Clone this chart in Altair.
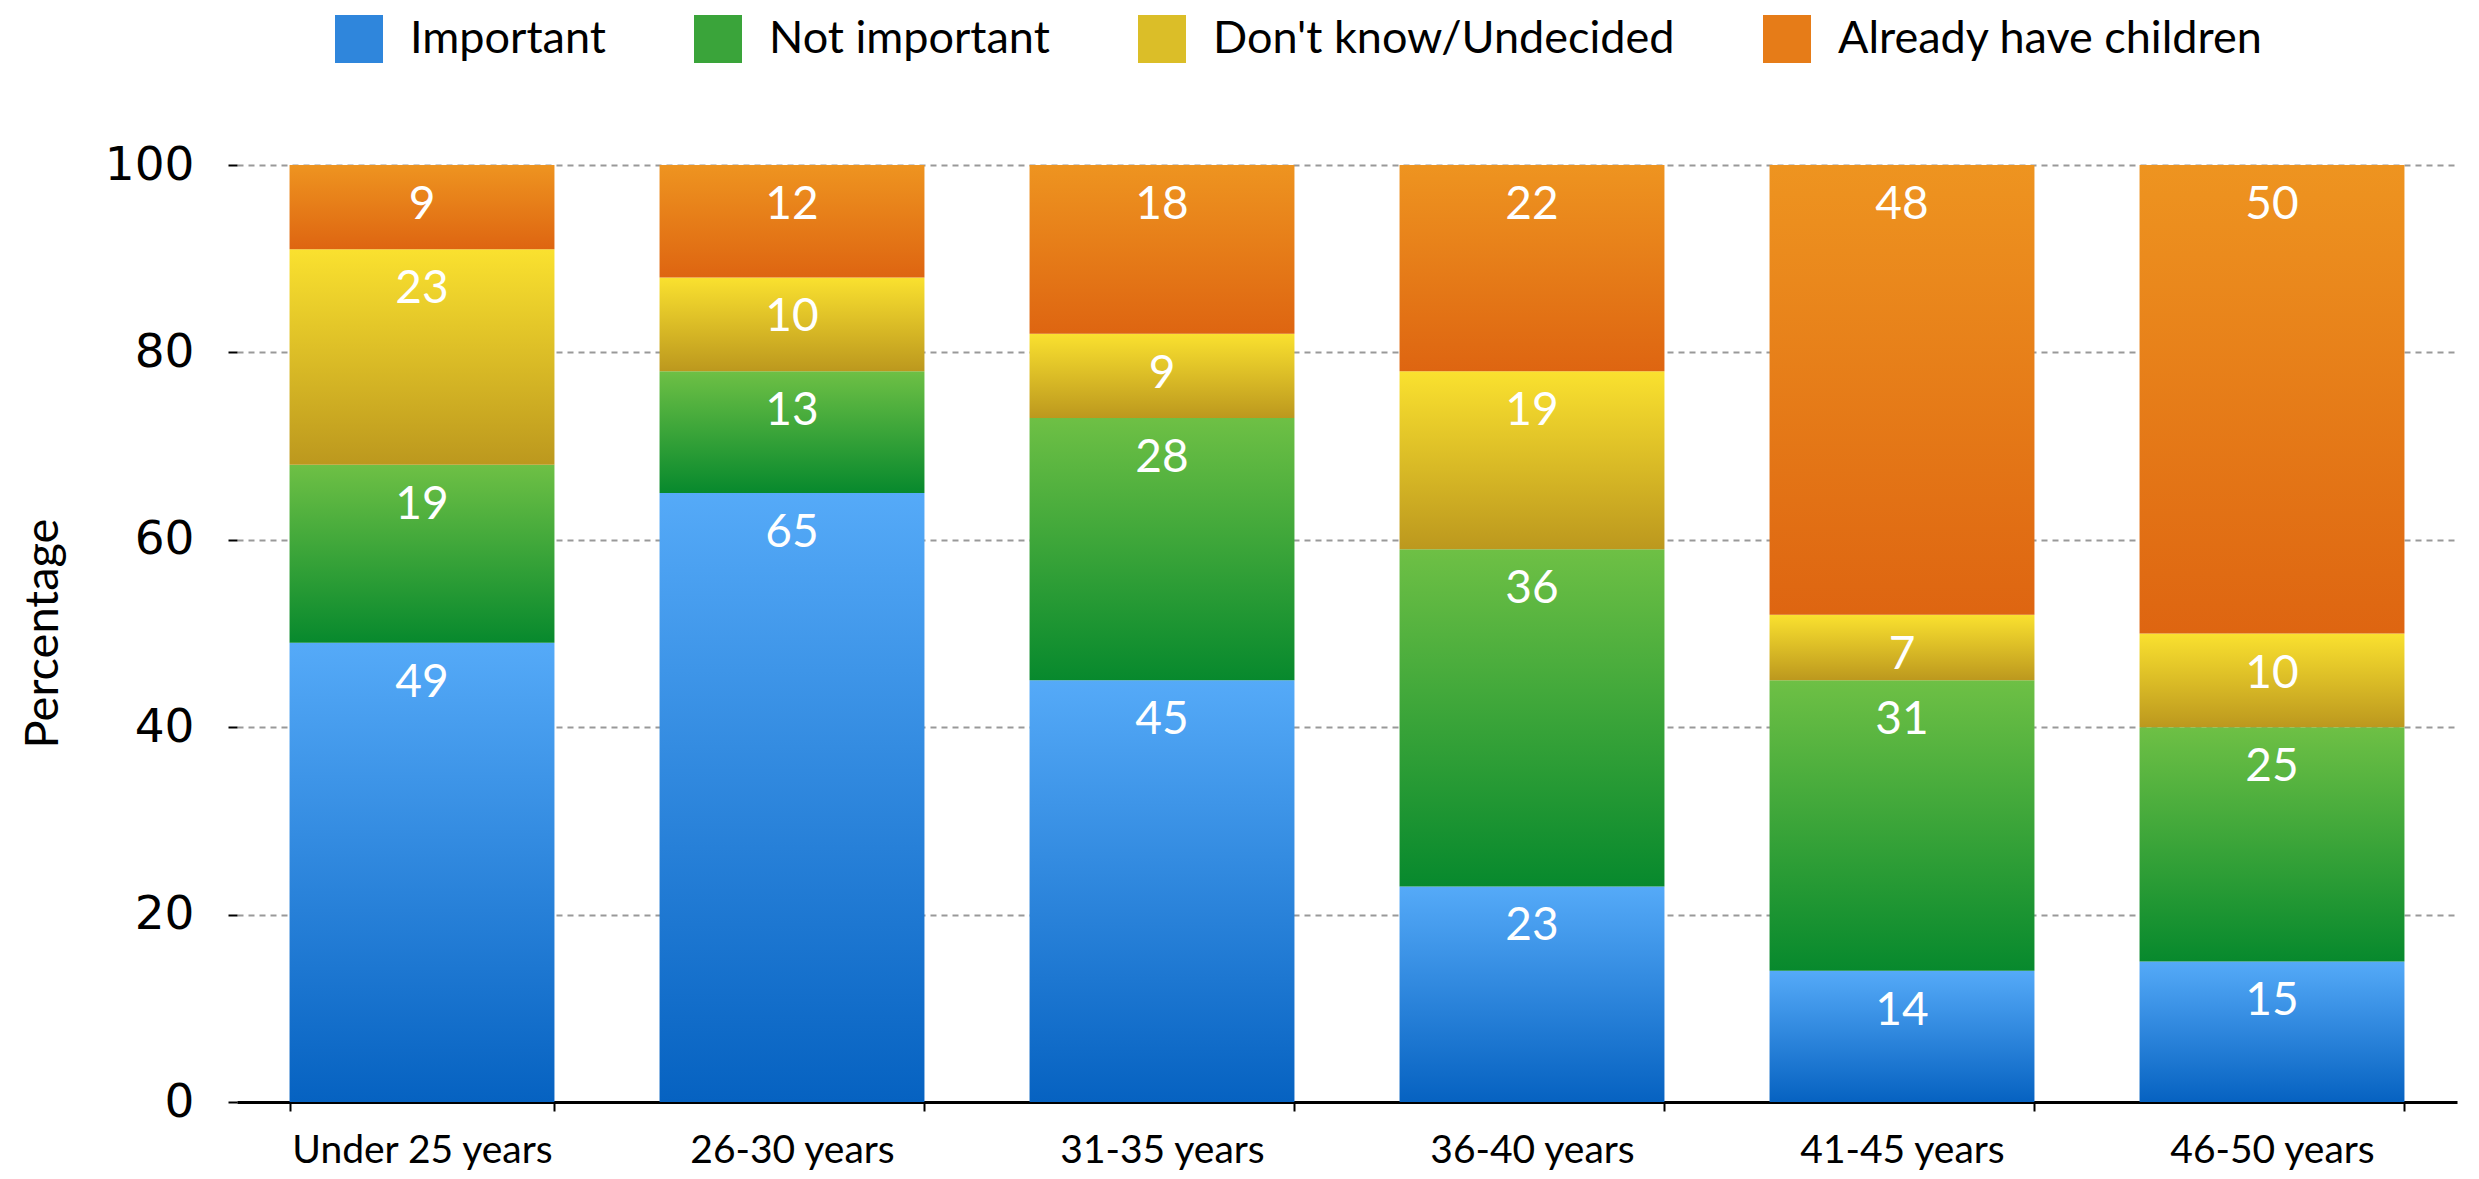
import altair as alt
import pandas as pd

ages = ["Under 25 years", "26-30 years", "31-35 years", "36-40 years", "41-45 years", "46-50 years"]
series = ["Important", "Not important", "Don't know/Undecided", "Already have children"]
important = [49, 65, 45, 23, 14, 15]
not_important = [19, 13, 28, 36, 31, 25]
dont_know = [23, 10, 9, 19, 7, 10]
already = [9, 12, 18, 22, 48, 50]

grad_top = ["#55AAF8", "#6EC045", "#FAE12F", "#EE9420"]
grad_bot = ["#0662C1", "#07892D", "#BC981E", "#DE6511"]
legend_colors = ["#2F86DC", "#3AA43A", "#DBBE28", "#E67C18"]

rows = []
for si, (name, vals) in enumerate(zip(series, [important, not_important, dont_know, already])):
    for a, v in zip(ages, vals):
        rows.append({"age": a, "series": name, "order": si, "value": v})
df = pd.DataFrame(rows)

x_enc = alt.X("age:N", sort=ages, title=None,
              scale=alt.Scale(paddingInner=0.284, paddingOuter=0.142),
              axis=alt.Axis(labelAngle=0, labelFont="Lato", labelFontSize=39, labelColor="black",
                            labelPadding=20, labelLimit=1000, tickBand="extent", tickColor="black",
                            tickWidth=2, tickSize=9, domainColor="black", domainWidth=3, grid=False))
y_enc = alt.Y("y1:Q", title="Percentage",
              scale=alt.Scale(domain=[0, 100], nice=False),
              axis=alt.Axis(values=[0, 20, 40, 60, 80, 100], domain=False, tickColor="black",
                            tickWidth=2, tickSize=9, labelFont="DejaVu Sans", labelFontSize=47,
                            labelColor="black", labelPadding=34, grid=True, gridColor="#999999",
                            gridDash=[6, 5], gridWidth=2, titleFont="Lato", titleFontSize=47,
                            titleFontWeight="normal", titleColor="black", titleAngle=-90,
                            titleX=-194, titleY=468, titleAlign="center", titleBaseline="middle"))

base = alt.Chart(df).transform_stack(
    stack="value", groupby=["age"], as_=["y0", "y1"], sort=[alt.SortField("order", order="ascending")]
)

layers = []
for si, name in enumerate(series):
    grad = alt.Gradient(gradient="linear",
                        stops=[alt.GradientStop(color=grad_top[si], offset=0),
                               alt.GradientStop(color=grad_bot[si], offset=1)],
                        x1=0, x2=0, y1=0, y2=1)
    layers.append(
        base.transform_filter(alt.datum.series == name)
        .mark_bar(fill=grad, strokeWidth=0)
        .encode(x=x_enc, y=y_enc, y2="y0:Q")
    )

labels = base.mark_text(color="white", font="Lato", fontSize=46, baseline="middle", dy=40).encode(
    x=alt.X("age:N", sort=ages), y="y1:Q", text="value:Q"
)

legend_layer = alt.Chart(df).transform_filter("false").mark_square(opacity=1).encode(
    color=alt.Color("series:N", scale=alt.Scale(domain=series, range=legend_colors),
                    legend=alt.Legend(orient="none", legendX=98, legendY=-150, direction="horizontal",
                                      title=None, symbolType="square", symbolSize=2304,
                                      symbolStrokeWidth=0, symbolOpacity=1, labelFont="Lato",
                                      labelFontSize=45, labelColor="black", labelOffset=27,
                                      columnPadding=88, labelLimit=800))
)

chart = alt.layer(*layers, labels, legend_layer).properties(
    width=2220, height=937,
    autosize=alt.AutoSizeParams(type="none"),
    padding={"left": 229, "top": 157, "right": 10, "bottom": 68},
).configure_view(stroke=None)

chart.save("out.html", embed_options={"renderer": "svg", "actions": False})
